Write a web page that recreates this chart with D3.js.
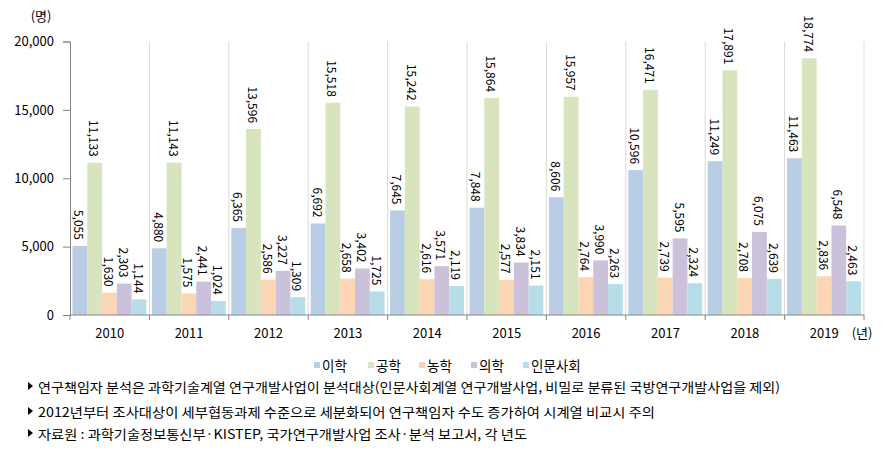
<!DOCTYPE html>
<html><head><meta charset="utf-8">
<script src="https://cdn.jsdelivr.net/npm/d3@7"></script>
<style>body{margin:0;background:#fff}svg{display:block}text{font-family:"Noto Sans CJK KR","Noto Sans",sans-serif}</style>
</head><body><svg id="c" width="894" height="459"></svg>
<script>
const years = ["2010","2011","2012","2013","2014","2015","2016","2017","2018","2019"];
const seriesNames = ["이학","공학","농학","의학","인문사회"];
const seriesColors = ["#b9cde5","#d7e4bd","#fcd5b5","#ccc1da","#b7dee8"];
const sci  = [5055,4880,6365,6692,7645,7848,8606,10596,11249,11463];
const eng  = [11133,11143,13596,15518,15242,15864,15957,16471,17891,18774];
const agr  = [1630,1575,2586,2658,2616,2577,2764,2739,2708,2836];
const med  = [2303,2441,3227,3402,3571,3834,3990,5595,6075,6548];
const hum  = [1144,1024,1309,1725,2119,2151,2263,2324,2639,2463];
const yTicks = [0,5000,10000,15000,20000];
const notes = [
 "연구책임자 분석은 과학기술계열 연구개발사업이 분석대상(인문사회계열 연구개발사업, 비밀로 분류된 국방연구개발사업을 제외)",
 "2012년부터 조사대상이 세부협동과제 수준으로 세분화되어 연구책임자 수도 증가하여 시계열 비교시 주의",
 "자료원 : 과학기술정보통신부·KISTEP, 국가연구개발사업 조사·분석 보고서, 각 년도"
];
const values = [sci, eng, agr, med, hum];

const svg = d3.select("#c");
const L = 70, R = 864, T = 41.5, B = 315;
const x0 = d3.scaleBand().domain(years).range([L, R]).padding(0);
const x1 = d3.scaleBand().domain(seriesNames).range([2.5, x0.bandwidth() - 3]).padding(0);
const y = d3.scaleLinear().domain([0, 20000]).range([B, T]);

// vertical gridlines at category boundaries
const bounds = years.map(d => x0(d)).concat([R]);
svg.append("g").selectAll("line").data(bounds.slice(1)).join("line")
  .attr("x1", d => d).attr("x2", d => d).attr("y1", T).attr("y2", B)
  .attr("stroke", "#d9d9d9").attr("stroke-width", 1);

// bars
const g = svg.append("g");
years.forEach((yr, i) => {
  seriesNames.forEach((s, j) => {
    const v = values[j][i];
    g.append("rect")
      .attr("x", x0(yr) + x1(s)).attr("width", x1.bandwidth())
      .attr("y", y(v)).attr("height", B - y(v))
      .attr("fill", seriesColors[j]);
    const cx = x0(yr) + x1(s) + x1.bandwidth() / 2;
    const ty = y(v) - 6;
    g.append("text")
      .attr("transform", `translate(${cx},${ty}) rotate(90)`)
      .attr("text-anchor", "end").attr("dominant-baseline", "central")
      .attr("font-family", "'Liberation Sans',sans-serif")
      .attr("font-size", 12).attr("fill", "#000")
      .text(d3.format(",")(v));
  });
});

// y axis
const yAxis = d3.axisLeft(y).tickValues(yTicks).tickFormat(d3.format(",")).tickSize(7).tickPadding(9);
const ya = svg.append("g").attr("transform", `translate(${L},0)`).call(yAxis);
ya.select(".domain").attr("stroke", "#868686");
ya.selectAll(".tick line").attr("stroke", "#868686");
ya.selectAll(".tick text").attr("font-family", "'Liberation Sans',sans-serif").attr("font-size", 13).attr("fill", "#000");

// x axis
const xa = svg.append("g");
xa.append("line").attr("x1", L).attr("x2", R).attr("y1", B).attr("y2", B).attr("stroke", "#868686");
xa.selectAll("line.t").data(bounds).join("line").attr("class","t")
  .attr("x1", d => d).attr("x2", d => d).attr("y1", B).attr("y2", B + 5).attr("stroke", "#868686");
xa.selectAll("text").data(years).join("text")
  .attr("x", d => x0(d) + x0.bandwidth() / 2).attr("y", 338)
  .attr("text-anchor", "middle").attr("font-family", "'Liberation Sans',sans-serif")
  .attr("font-size", 13).text(d => d);

svg.append("text").attr("x", 41).attr("y", 21).attr("text-anchor", "middle").attr("font-size", 13).text("(명)");
svg.append("text").attr("x", 862).attr("y", 338).attr("text-anchor", "middle").attr("font-size", 13).text("(년)");

// legend
const legX = [314, 368, 419, 471, 523];
const lg = svg.append("g");
seriesNames.forEach((s, j) => {
  lg.append("rect").attr("x", legX[j]).attr("y", 362).attr("width", 6).attr("height", 6).attr("fill", seriesColors[j]);
  lg.append("text").attr("x", legX[j] + 8).attr("y", 365).attr("dominant-baseline", "central")
    .attr("font-size", 13.5).attr("fill", "#000").text(s);
});

// notes
const noteY = [386, 411, 433];
const noteEnd = [780, 655, 527];
notes.forEach((t, i) => {
  svg.append("path").attr("d", `M28,${noteY[i]-4} L33,${noteY[i]} L28,${noteY[i]+4} Z`).attr("fill", "#000");
  const tx = svg.append("text").attr("x", 38).attr("y", noteY[i]).attr("dominant-baseline", "central")
    .attr("font-size", 13).attr("fill", "#000").text(t);
  const len = tx.node().getComputedTextLength();
  const target = noteEnd[i] - 38;
  if (Math.abs(len - target) > 4) tx.attr("textLength", target).attr("lengthAdjust", "spacingAndGlyphs");
});
</script></body></html>
